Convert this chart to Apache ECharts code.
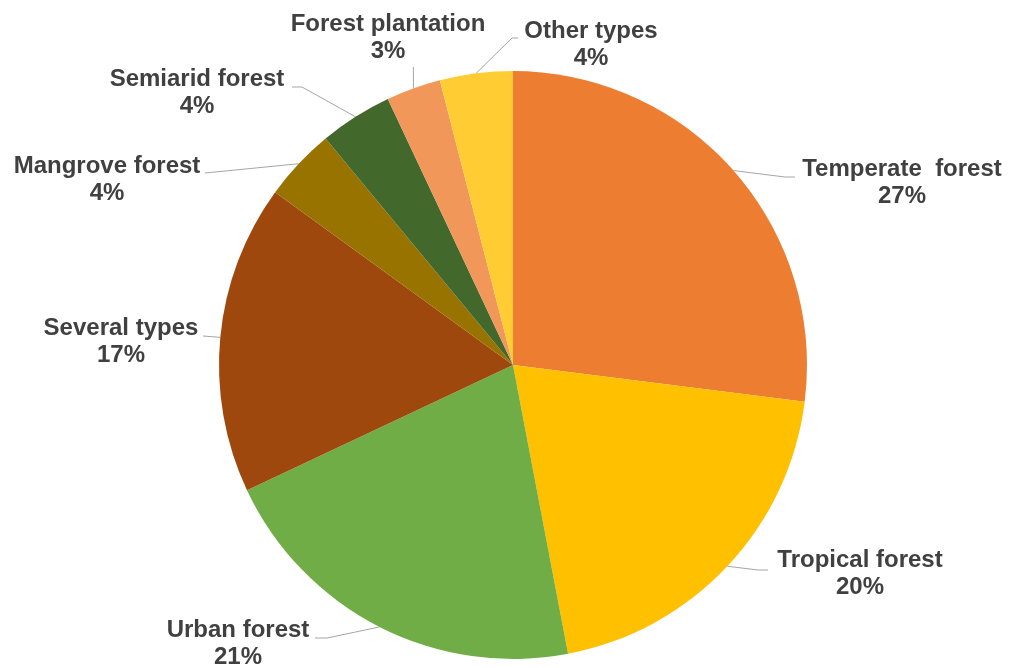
<!DOCTYPE html>
<html>
<head>
<meta charset="utf-8">
<title>Forest types</title>
<script src="https://cdn.jsdelivr.net/npm/echarts@6/dist/echarts.min.js"></script>
<style>
  html, body { margin: 0; padding: 0; background: #ffffff; }
  #chart { width: 1010px; height: 668px; }
</style>
</head>
<body>
<div id="chart"></div>
<script>
// Forest types, share of studies (%)
const categories = [
  'Temperate  forest',
  'Tropical forest',
  'Urban forest',
  'Several types',
  'Mangrove forest',
  'Semiarid forest',
  'Forest plantation',
  'Other types'
];
const shares = [27, 20, 21, 17, 4, 4, 3, 4];

// Slice fill colours, same order as the categories
const sliceColors = [
  '#ED7D31', '#FFC000', '#70AD47', '#9E480E',
  '#997300', '#43682B', '#F1975A', '#FFCD33'
];

// Where each label block sits (centre) and the extra leader-line points
// that follow the slice-edge starting point. 'up' draws a vertical leader.
const labelPlacement = [
  { x: 902, y: 183, line: [[785, 177], [795, 177]] },
  { x: 860, y: 574, line: [[758, 570], [768, 570]] },
  { x: 238, y: 644, line: [[327, 638], [315, 638]] },
  { x: 121, y: 342, line: [[203, 336]] },
  { x: 107, y: 180, line: [[205, 173]] },
  { x: 197, y: 93,  line: [[302, 87], [292, 87]] },
  { x: 388, y: 38,  up: 67 },
  { x: 591, y: 45,  line: [[512, 38], [518, 38]] }
];

const chart = echarts.init(document.getElementById('chart'), null, { renderer: 'canvas' });

const seriesData = categories.map((name, i) => ({
  name: name,
  value: shares[i],
  itemStyle: { color: sliceColors[i] }
}));

chart.setOption({
  animation: false,
  backgroundColor: '#ffffff',
  series: [{
    type: 'pie',
    center: [513, 365],
    radius: 294,
    startAngle: 90,
    clockwise: true,
    percentPrecision: 0,
    avoidLabelOverlap: false,
    silent: true,
    data: seriesData,
    itemStyle: { borderWidth: 0 },
    label: {
      show: true,
      position: 'outside',
      formatter: '{b}\n{d}%',
      fontFamily: '"Liberation Sans", Arial, sans-serif',
      fontWeight: 'bold',
      fontSize: 24,
      lineHeight: 27,
      color: '#404040',
      align: 'center'
    },
    labelLine: {
      show: true,
      length: 20,
      length2: 10,
      smooth: false,
      lineStyle: { color: '#A6A6A6', width: 1 }
    },
    labelLayout: function (params) {
      const p = labelPlacement[params.dataIndex];
      const pts = params.labelLinePoints;
      const start = pts && pts.length ? pts[0] : null;
      let linePts;
      if (start) {
        if (p.up != null) {
          linePts = [start, [start[0], p.up]];
        } else {
          linePts = [start].concat(p.line);
        }
      }
      const out = {
        x: p.x,
        y: p.y,
        align: 'center',
        verticalAlign: 'middle'
      };
      if (linePts) out.labelLinePoints = linePts;
      return out;
    },
    emphasis: { disabled: true }
  }]
});
</script>
</body>
</html>
